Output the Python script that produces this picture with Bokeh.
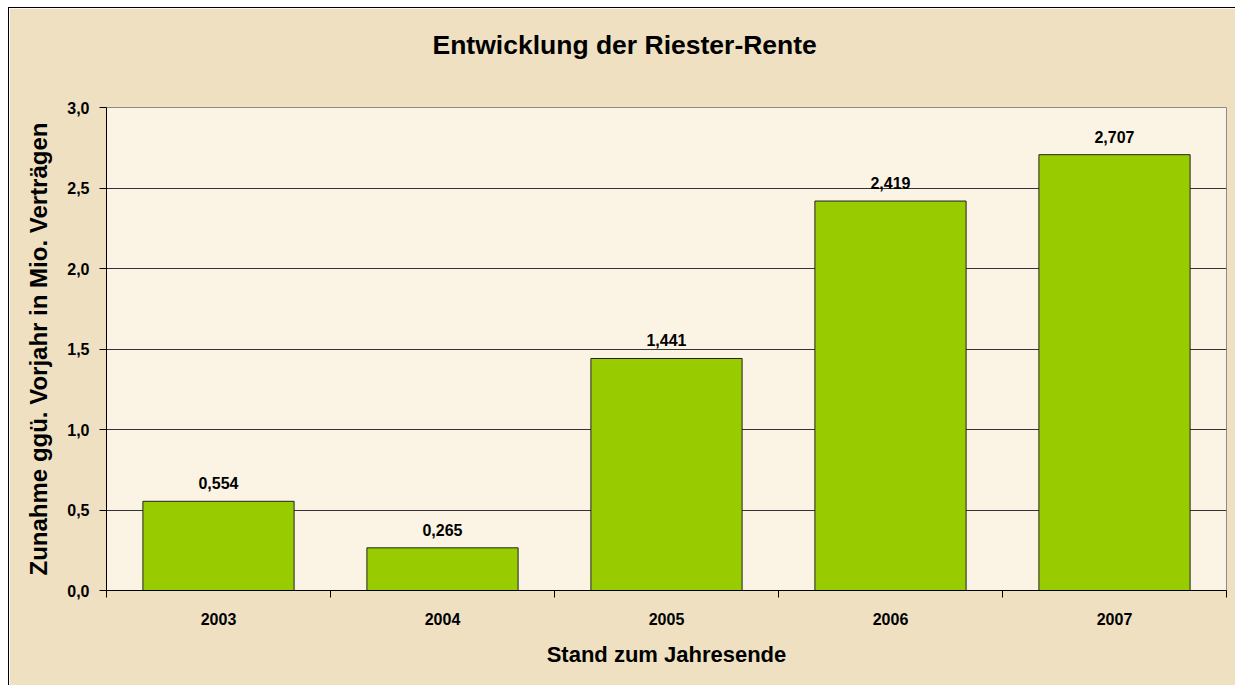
from bokeh.plotting import figure
from bokeh.models import (ColumnDataSource, LabelSet, FixedTicker,
                          CustomJSTickFormatter, Range1d, Title)
from bokeh.core.properties import value
from bokeh.embed import file_html
from bokeh.resources import INLINE

# ---- data ----
years = ["2003", "2004", "2005", "2006", "2007"]
values = [0.554, 0.265, 1.441, 2.419, 2.707]
y_ticks = [0.0, 0.5, 1.0, 1.5, 2.0, 2.5, 3.0]
title_text = "Entwicklung der Riester-Rente"
x_title = "Stand zum Jahresende"
y_title = "Zunahme ggü. Vorjahr in Mio. Verträgen"

FONT = "Liberation Sans"

xpos = [i + 0.5 for i in range(len(years))]
labels = [f"{v:.3f}".replace(".", ",") for v in values]
src = ColumnDataSource(dict(x=xpos, top=values, label=labels))

p = figure(width=1227, height=678, output_backend="svg", toolbar_location=None,
           x_range=Range1d(0, len(years)), y_range=Range1d(0, 3.0),
           min_border_left=97, min_border_top=99, min_border_right=10,
           min_border_bottom=96)
p.styles = {"margin-left": "8px", "margin-top": "7px",
            "border-left": "1px solid #000000", "border-top": "1px solid #000000"}

p.background_fill_color = "#FBF4E4"
p.border_fill_color = "#EFE0C2"
p.outline_line_color = "#8C8C8C"
p.outline_line_width = 1

p.vbar(x="x", top="top", width=0.675, bottom=0, source=src,
       fill_color="#99CC00", line_color="#222222", line_width=1)

p.add_layout(LabelSet(x="x", y="top", text="label", source=src,
                      text_align="center", text_baseline="alphabetic",
                      y_offset=12, text_font=value(FONT), text_font_style="bold",
                      text_font_size="16px", text_color="#000000"))

# grid
p.xgrid.grid_line_color = None
p.ygrid.grid_line_color = "#333333"
p.ygrid.grid_line_width = 1

# y axis
p.yaxis.ticker = FixedTicker(ticks=y_ticks, minor_ticks=[])
p.yaxis.formatter = CustomJSTickFormatter(code="return tick.toFixed(1).replace('.', ',');")
p.yaxis.major_tick_out = 7
p.yaxis.major_tick_in = 0
p.yaxis.minor_tick_line_color = None
p.yaxis.axis_line_color = "#000000"
p.yaxis.major_tick_line_color = "#000000"
p.yaxis.major_label_standoff = 10
p.yaxis.major_label_text_font = FONT
p.yaxis.major_label_text_font_style = "bold"
p.yaxis.major_label_text_font_size = "16px"
p.yaxis.major_label_text_color = "#000000"
p.yaxis.axis_label = y_title
p.yaxis.axis_label_text_font = FONT
p.yaxis.axis_label_text_font_style = "bold"
p.yaxis.axis_label_text_font_size = "24px"
p.yaxis.axis_label_text_color = "#000000"
p.yaxis.axis_label_standoff = 12

# x axis: labels at category centres, ticks at category boundaries
p.xaxis.ticker = FixedTicker(ticks=xpos, minor_ticks=list(range(len(years) + 1)))
p.xaxis.major_label_overrides = {x: y for x, y in zip(xpos, years)}
p.xaxis.major_tick_out = 0
p.xaxis.major_tick_in = 0
p.xaxis.minor_tick_out = 7
p.xaxis.minor_tick_in = 0
p.xaxis.minor_tick_line_color = "#000000"
p.xaxis.axis_line_color = "#000000"
p.xaxis.major_label_standoff = 15
p.xaxis.major_label_text_font = FONT
p.xaxis.major_label_text_font_style = "bold"
p.xaxis.major_label_text_font_size = "16px"
p.xaxis.major_label_text_color = "#000000"
p.xaxis.axis_label = x_title
p.xaxis.axis_label_text_font = FONT
p.xaxis.axis_label_text_font_style = "bold"
p.xaxis.axis_label_text_font_size = "22px"
p.xaxis.axis_label_text_color = "#000000"
p.xaxis.axis_label_standoff = 14

# spacer between the frame and the title
p.add_layout(Title(text=" ", text_font_size="1px", standoff=40), "above")

# title
p.title.text = title_text
p.title.align = "left"
p.title.offset = 326
p.title.text_font = FONT
p.title.text_font_style = "bold"
p.title.text_font_size = "26.5px"
p.title.text_color = "#000000"

open("out.html", "w").write(file_html(p, INLINE))
